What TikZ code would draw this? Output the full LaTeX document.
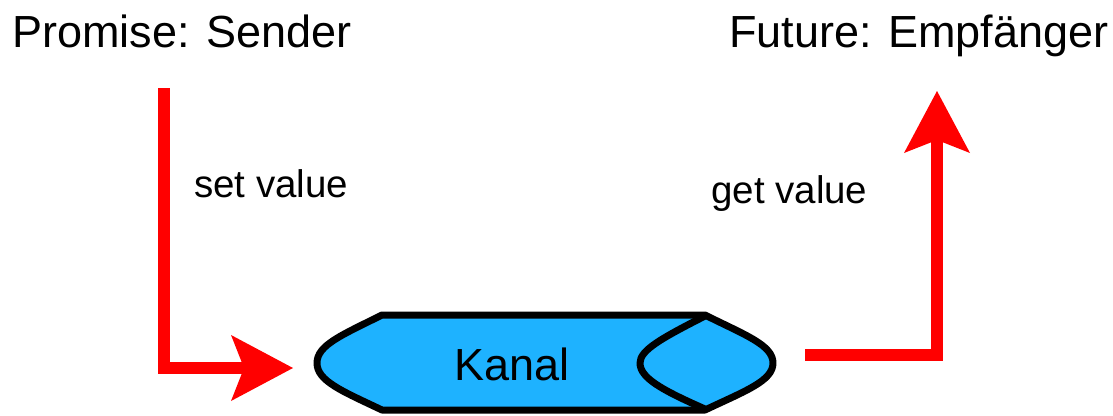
\documentclass[tikz,border=0pt]{standalone}
\usepackage{fontspec}
\setmainfont{Liberation Sans}
\usetikzlibrary{arrows.meta}
\definecolor{kanalblue}{RGB}{30,178,255}
\definecolor{arrowred}{RGB}{255,0,0}
\tikzset{
  title/.style={inner sep=0pt, anchor=base west, font=\fontsize{45}{50}\selectfont},
  label/.style={inner sep=0pt, anchor=base west, font=\fontsize{38.5}{42}\selectfont},
  flow/.style={draw=arrowred, line width=12pt,
    -{Stealth[length=62pt, width=66pt, inset=13pt, line width=0pt]}},
  kanalline/.style={draw=black, line width=7pt, line join=round},
}
\begin{document}
\begin{tikzpicture}[x=1pt, y=-1pt]
\useasboundingbox (0,0) rectangle (1113,415);
% texts
\node[title] (promise) at (12,47) {Promise: Sender};
\node[title] (future) at (729,47) {Future: Empf\"anger};
\node[label] (set) at (194,197) {set value};
\node[label] (get) at (711,203) {get value};
% channel shape
\path[kanalline, fill=kanalblue]
  (382,315) -- (705,315)
  .. controls (745,335) and (773,345) .. (773,363)
  .. controls (773,381) and (745,391) .. (705,410)
  -- (382,410)
  .. controls (342,391) and (317,381) .. (317,363)
  .. controls (317,345) and (342,335) .. cycle;
\path[kanalline]
  (705,316) .. controls (662,338) and (640,350) .. (640,363)
  .. controls (640,378) and (662,390) .. (705,409);
\node[inner sep=0pt, anchor=base west, font=\fontsize{45}{48}\selectfont] (kanal) at (454,380) {Kanal};
% connector end points
\coordinate (sstart) at (164,88);
\coordinate (send) at (293,368);
\coordinate (gstart) at (805,355);
\coordinate (gend) at (937,91);
\draw[flow] (sstart) |- (send);
\draw[flow] (gstart) -| (gend);
\end{tikzpicture}
\end{document}
